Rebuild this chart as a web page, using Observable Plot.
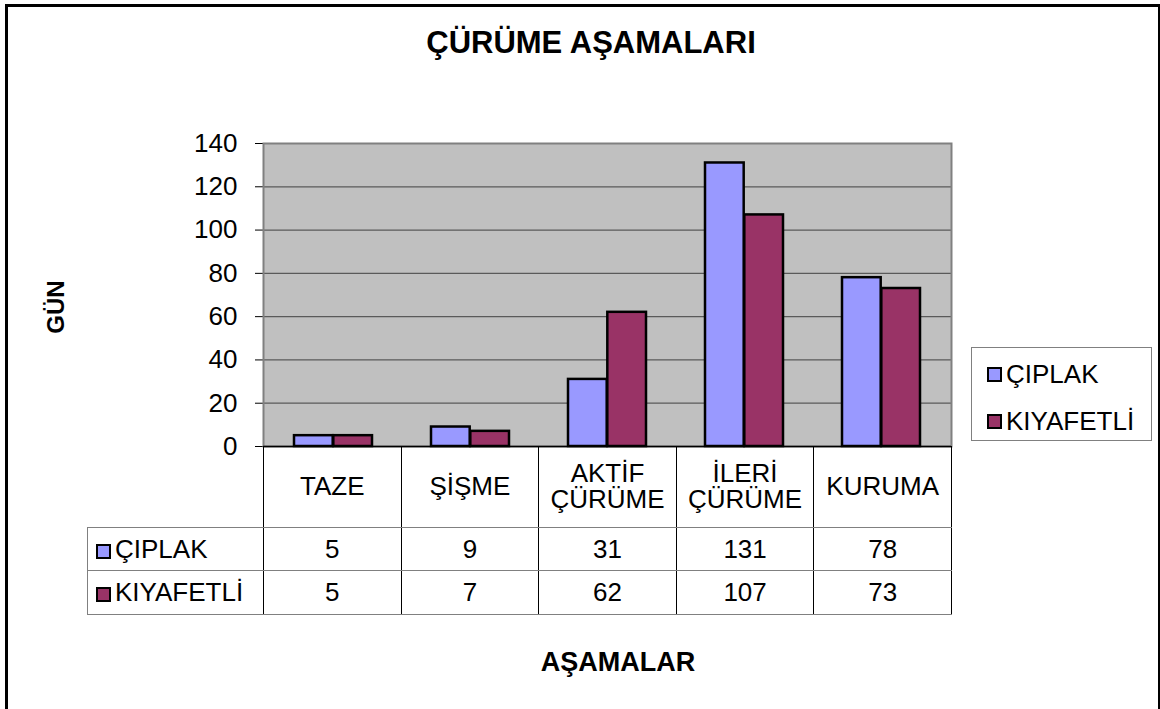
<!DOCTYPE html>
<html>
<head>
<meta charset="utf-8">
<script src="https://cdn.jsdelivr.net/npm/d3@7"></script>
<script src="https://cdn.jsdelivr.net/npm/@observablehq/plot@0.6"></script>
<style>
  html, body { margin: 0; padding: 0; background: #fff; }
  #wrap { position: relative; width: 1160px; height: 709px; overflow: hidden; font-family: "Liberation Sans", Arial, sans-serif; color: #000; }
  #border { position: absolute; left: 5px; top: 4px; width: 1150px; height: 760px; border: 3px solid #000; }
  #chart { position: absolute; left: 0; top: 0; }
  .title { position: absolute; left: 391px; top: 27px; width: 400px; text-align: center; font-weight: bold; font-size: 31px; line-height: 31px; white-space: nowrap; }
  .xlabel { position: absolute; left: 468px; top: 649px; width: 300px; text-align: center; font-weight: bold; font-size: 27px; line-height: 27px; }
  .ylabel { position: absolute; left: 56px; top: 307px; transform: translate(-50%, -50%) rotate(-90deg); font-weight: bold; font-size: 24px; line-height: 24px; white-space: nowrap; }
  #legend { position: absolute; left: 971px; top: 347px; width: 181px; height: 94px; border: 1px solid #808080; box-sizing: border-box; }
  .litem { position: absolute; left: 15px; font-size: 26px; line-height: 26px; white-space: nowrap; display: flex; align-items: center; }
  .key { display: inline-block; width: 11px; height: 11px; border: 2px solid #000; margin-right: 4px; }
  #tbl { position: absolute; left: 87px; top: 446px; border-collapse: collapse; table-layout: fixed; font-size: 26px; }
  #tbl td { padding: 0; text-align: center; vertical-align: middle; line-height: 26px; }
  #tbl td.cat { border-left: 1px solid #000; border-right: 1px solid #000; border-bottom: 1px solid #808080; white-space: pre-line; }
  #tbl td.val { border-left: 1px solid #000; border-right: 1px solid #000; border-bottom: 1px solid #808080; }
  #tbl td.blank { border-right: 1px solid #000; border-bottom: 1px solid #808080; }
  #tbl td.name { text-align: left; padding-left: 8px; border-left: 1px solid #808080; border-right: 1px solid #000; border-bottom: 1px solid #808080; white-space: nowrap; }
</style>
</head>
<body>
<div id="wrap">
  <div id="border"></div>
  <div id="chart"></div>
  <div class="title">ÇÜRÜME AŞAMALARI</div>
  <div class="ylabel">GÜN</div>
  <div class="xlabel">AŞAMALAR</div>
  <div id="legend"></div>
  <table id="tbl"></table>
</div>
<script>
// ---- data ----
const stages = ["TAZE", "ŞİŞME", "AKTİF ÇÜRÜME", "İLERİ ÇÜRÜME", "KURUMA"];
const stageLabels = ["TAZE", "ŞİŞME", "AKTİF\nÇÜRÜME", "İLERİ\nÇÜRÜME", "KURUMA"];
const seriesNames = ["ÇIPLAK", "KIYAFETLİ"];
const ciplak = [5, 9, 31, 131, 78];
const kiyafetli = [5, 7, 62, 107, 73];
const yTicks = [0, 20, 40, 60, 80, 100, 120, 140];
const seriesColors = ["#9999FF", "#993366"];

// ---- layout ----
const W = 1160, H = 709;
const mLeft = 263, mRight = 209, mTop = 143, mBottom = 263;
const padInner = 0.4286;
const plotW = W - mLeft - mRight;
const step = plotW / stages.length;
const halfBar = step * (1 - padInner) / 2;

const chart = Plot.plot({
  width: W,
  height: H,
  marginLeft: mLeft,
  marginRight: mRight,
  marginTop: mTop,
  marginBottom: mBottom,
  style: { fontSize: "26px", fontFamily: "Liberation Sans, Arial, sans-serif", color: "#000", background: "transparent" },
  x: { type: "band", domain: stages, paddingInner: padInner, paddingOuter: padInner / 2, axis: null },
  y: { domain: [0, 140], ticks: yTicks, tickSize: 8, tickPadding: 18, label: null, line: true },
  marks: [
    Plot.frame({ fill: "#C0C0C0" }),
    Plot.ruleY(yTicks.slice(1), { stroke: "#5a5a5a", strokeWidth: 1.2 }),
    Plot.frame({ stroke: "#808080", strokeWidth: 2 }),
    Plot.barY(stages, { x: d => d, y: (d, i) => ciplak[i], fill: seriesColors[0], stroke: "#000", strokeWidth: 2.5, insetRight: halfBar }),
    Plot.barY(stages, { x: d => d, y: (d, i) => kiyafetli[i], fill: seriesColors[1], stroke: "#000", strokeWidth: 2.5, insetLeft: halfBar }),
    Plot.ruleY([0], { stroke: "#000", strokeWidth: 1.5 })
  ]
});
document.getElementById("chart").appendChild(chart);

// ---- legend (right) ----
const legend = document.getElementById("legend");
seriesNames.forEach((name, i) => {
  const item = document.createElement("div");
  item.className = "litem";
  item.style.top = (i === 0 ? 13 : 60) + "px";
  const key = document.createElement("span");
  key.className = "key";
  key.style.background = seriesColors[i];
  item.appendChild(key);
  item.appendChild(document.createTextNode(name));
  legend.appendChild(item);
});

// ---- data table ----
const tbl = document.getElementById("tbl");
const colgroup = document.createElement("colgroup");
const c0 = document.createElement("col"); c0.style.width = "176px"; colgroup.appendChild(c0);
stages.forEach(() => { const c = document.createElement("col"); c.style.width = step + "px"; colgroup.appendChild(c); });
tbl.appendChild(colgroup);
tbl.style.width = (176 + plotW) + "px";

const hr = document.createElement("tr");
hr.style.height = "81px";
const hb = document.createElement("td"); hb.className = "blank"; hr.appendChild(hb);
stageLabels.forEach(l => { const td = document.createElement("td"); td.className = "cat"; td.textContent = l; hr.appendChild(td); });
tbl.appendChild(hr);

[ciplak, kiyafetli].forEach((vals, i) => {
  const tr = document.createElement("tr");
  tr.style.height = (i === 0 ? 43 : 44) + "px";
  const nm = document.createElement("td");
  nm.className = "name";
  const key = document.createElement("span");
  key.className = "key";
  key.style.background = seriesColors[i];
  key.style.verticalAlign = "-1px";
  nm.appendChild(key);
  nm.appendChild(document.createTextNode(seriesNames[i]));
  tr.appendChild(nm);
  vals.forEach(v => { const td = document.createElement("td"); td.className = "val"; td.textContent = v; tr.appendChild(td); });
  tbl.appendChild(tr);
});
</script>
</body>
</html>
